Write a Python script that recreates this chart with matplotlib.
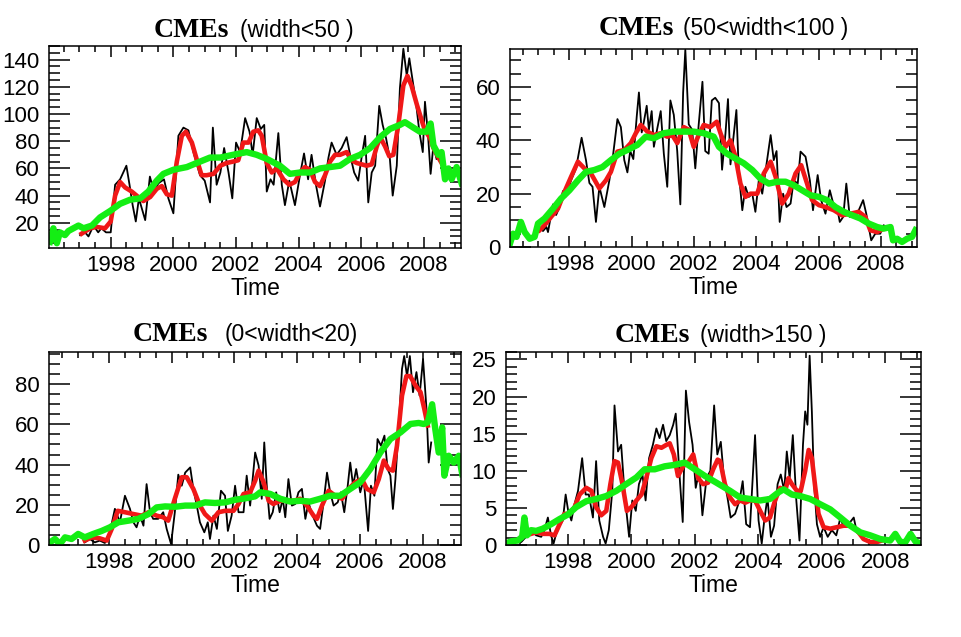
import matplotlib
matplotlib.use('Agg')
import matplotlib.pyplot as plt
from matplotlib.ticker import MultipleLocator

plt.rcParams['font.family'] = 'Liberation Sans'

years = [1998, 2000, 2002, 2004, 2006, 2008]

# ---- CMEs (width<50) ----
p1_black_t = [1997.02, 1997.18, 1997.29, 1997.45, 1997.6, 1997.7, 1997.85, 1998.0, 1998.14, 1998.3,
              1998.5, 1998.6, 1998.7, 1998.8, 1998.9, 1999.1, 1999.25, 1999.38, 1999.52, 1999.7,
              1999.84, 2000.0, 2000.16, 2000.32, 2000.48, 2000.64, 2000.85, 2001.0, 2001.17, 2001.26,
              2001.38, 2001.5, 2001.62, 2001.76, 2001.88, 2002.0, 2002.13, 2002.29, 2002.43, 2002.53,
              2002.66, 2002.79, 2002.9, 2002.98, 2003.1, 2003.2, 2003.35, 2003.46, 2003.56, 2003.7,
              2003.88, 2004.04, 2004.17, 2004.3, 2004.41, 2004.55, 2004.68, 2004.84, 2004.95, 2005.05,
              2005.21, 2005.37, 2005.53, 2005.64, 2005.77, 2005.9, 2006.0, 2006.12, 2006.22, 2006.33,
              2006.44, 2006.57, 2006.68, 2006.79, 2006.91, 2007.0, 2007.13, 2007.23, 2007.34, 2007.45,
              2007.53, 2007.64, 2007.74, 2007.85, 2007.96, 2008.03, 2008.12, 2008.21, 2008.3, 2008.4]
p1_black_v = [11, 13, 10, 18, 13, 16, 13, 13, 48, 52,
              62, 48, 33, 21, 38, 22, 54, 43, 49, 52,
              38, 27, 84, 90, 88, 72, 55, 51, 35, 90,
              48, 57, 75, 57, 38, 79, 72, 97, 87, 70,
              97, 89, 92, 43, 52, 48, 86, 48, 33, 51,
              33, 55, 71, 52, 70, 48, 32, 51, 68, 79,
              70, 75, 83, 70, 57, 51, 67, 84, 35, 57,
              62, 106, 92, 82, 67, 40, 62, 119, 148, 128,
              141, 124, 109, 87, 72, 109, 87, 56, 77, 67]
p1_red_t = [1997.07, 1997.34, 1997.55, 1997.82, 1998.0, 1998.14, 1998.3, 1998.46, 1998.67, 1998.88,
            1999.04, 1999.26, 1999.47, 1999.63, 1999.79, 1999.95, 2000.11, 2000.27, 2000.4, 2000.59,
            2000.74, 2000.9, 2001.06, 2001.28, 2001.5, 2001.7, 2001.9, 2002.07, 2002.23, 2002.4,
            2002.55, 2002.71, 2002.82, 2002.98, 2003.14, 2003.3, 2003.51, 2003.7, 2003.88, 2004.04,
            2004.2, 2004.36, 2004.52, 2004.68, 2004.84, 2005.0, 2005.16, 2005.32, 2005.53, 2005.69,
            2005.85, 2006.01, 2006.17, 2006.33, 2006.49, 2006.6, 2006.76, 2006.89, 2007.02, 2007.18,
            2007.34, 2007.47, 2007.6, 2007.77, 2007.93, 2008.03, 2008.2, 2008.3, 2008.46, 2008.56]
p1_red_v = [12, 16, 17, 16, 21, 40, 50, 46, 43, 39,
            36, 39, 45, 47, 41, 40, 65, 84, 87, 79,
            67, 55, 55, 56, 62, 64, 65, 66, 79, 79,
            87, 88, 84, 64, 57, 60, 52, 48, 50, 57,
            61, 59, 50, 47, 55, 65, 70, 70, 72, 66,
            64, 63, 62, 63, 76, 83, 76, 69, 70, 92,
            121, 128, 121, 107, 95, 88, 82, 75, 68, 64]
p1_green_t = [1996.06, 1996.17, 1996.28, 1996.38, 1996.54, 1996.65, 1996.81, 1996.97, 1997.13, 1997.4,
              1997.66, 1998.0, 1998.3, 1998.62, 1998.94, 1999.2, 1999.47, 1999.68, 2000.0, 2000.43,
              2000.85, 2001.17, 2001.5, 2001.9, 2002.34, 2002.66, 2002.98, 2003.4, 2003.72, 2004.04,
              2004.36, 2004.68, 2005.0, 2005.32, 2005.64, 2005.96, 2006.28, 2006.6, 2006.91, 2007.23,
              2007.39, 2007.66, 2007.87, 2008.09, 2008.21, 2008.3, 2008.46, 2008.56, 2008.67, 2008.78,
              2008.88, 2009.04, 2009.2]
p1_green_v = [6, 16, 5, 13, 11, 14, 16, 18, 16, 18,
              24, 29, 34, 37, 38, 43, 51, 56, 59, 61,
              65, 68, 68, 70, 72, 70, 67, 62, 56, 57,
              57, 60, 61, 62, 67, 70, 75, 83, 89, 92,
              94, 90, 87, 87, 93, 77, 70, 72, 52, 60,
              52, 61, 49]

# ---- CMEs (50<width<100) ----
p2_black_t = [1996.99, 1997.15, 1997.26, 1997.31, 1997.47, 1997.57, 1997.68, 1997.79, 1997.89, 1998.05,
              1998.21, 1998.39, 1998.53, 1998.64, 1998.74, 1998.85, 1998.96, 1999.12, 1999.28, 1999.38,
              1999.54, 1999.65, 1999.76, 1999.86, 1999.95, 2000.05, 2000.16, 2000.23, 2000.32, 2000.39,
              2000.48, 2000.55, 2000.64, 2000.71, 2000.82, 2000.93, 2001.03, 2001.14, 2001.24, 2001.35,
              2001.46, 2001.56, 2001.65, 2001.72, 2001.83, 2001.94, 2002.04, 2002.15, 2002.27, 2002.36,
              2002.47, 2002.57, 2002.68, 2002.8, 2002.9, 2003.01, 2003.09, 2003.17, 2003.28, 2003.36,
              2003.44, 2003.55, 2003.65, 2003.76, 2003.87, 2003.97, 2004.08, 2004.19, 2004.29, 2004.46,
              2004.56, 2004.65, 2004.75, 2004.86, 2004.97, 2005.1, 2005.2, 2005.33, 2005.42, 2005.58,
              2005.72, 2005.82, 2005.97, 2006.08, 2006.22, 2006.36, 2006.47, 2006.6, 2006.68, 2006.79,
              2006.89, 2007.0, 2007.13, 2007.29, 2007.43, 2007.53, 2007.69, 2007.82, 2007.98, 2008.09,
              2008.2]
p2_black_v = [7.5, 6, 7.5, 5.6, 16, 12, 15, 21, 19, 25,
              29.5, 41, 32.6, 24, 22.6, 9.4, 22.6, 15, 25, 32.6,
              48, 45, 32.6, 28, 36, 33, 49, 58, 43, 47,
              53, 44, 51, 37.6, 44.5, 51, 35, 22.6, 55, 49.6,
              36, 16, 58, 74, 46, 44, 29.5, 46, 62, 36,
              35, 55, 56, 54, 29, 42.7, 55.5, 31, 42.7, 51.4,
              27.6, 13.8, 22.6, 18.8, 20, 13.2, 25, 20, 28, 42,
              32.6, 36, 9.4, 20, 15, 16.3, 25, 23.8, 35.8, 33.9,
              25, 13.8, 27, 17.6, 12.5, 21.3, 16.3, 14.4, 9.4, 11.3,
              23.8, 11.3, 12.5, 13.8, 17.6, 12.5, 2.5, 5, 5, 8.2,
              6.9]
p2_red_t = [1997.04, 1997.2, 1997.41, 1997.63, 1997.84, 1998.05, 1998.27, 1998.48, 1998.69, 1998.96,
            1999.17, 1999.33, 1999.54, 1999.76, 1999.97, 2000.13, 2000.29, 2000.5, 2000.71, 2000.93,
            2001.14, 2001.3, 2001.46, 2001.67, 2001.83, 2001.99, 2002.15, 2002.31, 2002.52, 2002.73,
            2002.85, 2003.01, 2003.17, 2003.33, 2003.49, 2003.65, 2003.81, 2004.03, 2004.24, 2004.46,
            2004.62, 2004.83, 2005.04, 2005.26, 2005.44, 2005.63, 2005.79, 2006.01, 2006.22, 2006.49,
            2006.75, 2007.02, 2007.29, 2007.5, 2007.66, 2007.88, 2008.09]
p2_red_v = [6.3, 8.2, 11.3, 14.4, 20.7, 26.3, 32, 29.5, 27.6, 22,
            25, 28.2, 35.8, 36.4, 39, 42.7, 45.8, 43.3, 42, 42.7,
            41.4, 42, 39, 45, 44, 37.6, 42, 45.8, 45, 47,
            42.7, 37.6, 40, 33.9, 23.8, 18.8, 20, 20, 27.6, 32,
            26.3, 16.3, 20, 27.6, 30.7, 23.8, 17.6, 15.7, 15, 13.8,
            11.9, 12.5, 13.2, 11.3, 6.3, 5.6, 6.9]
p2_green_t = [1996.09, 1996.19, 1996.3, 1996.44, 1996.56, 1996.72, 1996.88, 1996.99, 1997.2, 1997.47,
              1997.73, 1998.0, 1998.27, 1998.53, 1998.8, 1999.06, 1999.33, 1999.6, 1999.86, 2000.18,
              2000.45, 2000.71, 2001.03, 2001.35, 2001.67, 2001.99, 2002.31, 2002.63, 2002.8, 2003.06,
              2003.33, 2003.6, 2003.87, 2004.13, 2004.4, 2004.67, 2004.94, 2005.2, 2005.47, 2005.74,
              2006.01, 2006.27, 2006.54, 2006.81, 2007.08, 2007.34, 2007.61, 2007.88, 2008.09, 2008.31,
              2008.39, 2008.52, 2008.68, 2008.84, 2009.0, 2009.11]
p2_green_v = [1.3, 5, 3.8, 9.4, 5.6, 3.1, 3.8, 8.8, 10.7, 14.4,
              18.2, 21.3, 25, 28.2, 28.9, 30, 32.6, 35, 36.4, 38.3,
              41.4, 40.8, 42.7, 43.3, 43.3, 43.3, 42.7, 41.4, 37.6, 35,
              33.2, 31.4, 28.9, 25.7, 23.8, 24.5, 24.5, 23.2, 21.3, 19.4,
              18.8, 17.6, 15, 13.2, 11.9, 10.7, 8.8, 7.5, 6.9, 7.5,
              2.5, 3.1, 1.9, 3.1, 3.8, 6.3]

# ---- CMEs (0<width<20) ----
p3_black_t = [1997.23, 1997.39, 1997.55, 1997.71, 1997.87, 1998.03, 1998.19, 1998.35, 1998.51, 1998.67,
              1998.78, 1998.88, 1998.99, 1999.1, 1999.2, 1999.31, 1999.41, 1999.57, 1999.73, 1999.84,
              1999.98, 2000.1, 2000.21, 2000.32, 2000.43, 2000.59, 2000.69, 2000.8, 2000.9, 2001.04,
              2001.15, 2001.22, 2001.33, 2001.44, 2001.57, 2001.7, 2001.79, 2001.91, 2002.02, 2002.13,
              2002.29, 2002.39, 2002.5, 2002.66, 2002.77, 2002.87, 2002.95, 2003.03, 2003.12, 2003.22,
              2003.33, 2003.44, 2003.54, 2003.62, 2003.72, 2003.83, 2003.94, 2004.04, 2004.15, 2004.26,
              2004.36, 2004.47, 2004.63, 2004.73, 2004.84, 2004.95, 2005.05, 2005.16, 2005.29, 2005.39,
              2005.5, 2005.61, 2005.69, 2005.78, 2005.88, 2006.01, 2006.12, 2006.26, 2006.35, 2006.46,
              2006.56, 2006.67, 2006.78, 2006.88, 2006.97, 2007.05, 2007.13, 2007.23, 2007.34, 2007.41,
              2007.5, 2007.59, 2007.69, 2007.8, 2007.9, 2008.01, 2008.12, 2008.19, 2008.27]
p3_black_v = [1.3, 3, 1.3, 2.2, 1, 6.3, 18, 11.3, 24.5, 18,
              11.3, 8.8, 14.6, 9.6, 30.3, 16.3, 13, 13, 16.3, 8,
              0.5, 16.3, 35, 29.5, 36, 38.6, 27.9, 19.6, 11.3, 6.3,
              11.3, 3, 14.6, 8, 27, 24.5, 7, 14.6, 29.5, 16.3,
              16.3, 34.5, 19.6, 46, 39.5, 23, 51, 29.5, 13, 16.3,
              26.2, 16.3, 23, 13.8, 32.8, 19.6, 20.4, 26.2, 27.9, 13,
              21.2, 15.4, 9.6, 8, 21.2, 36, 26.2, 19.6, 21.2, 26.2,
              16.3, 29.5, 41, 29.5, 37.8, 26.2, 32.8, 7, 29.5, 24.5,
              52.7, 49.4, 54.4, 37.8, 34.5, 17.9, 32.8, 57.7, 87.6, 94,
              84, 94, 76, 86, 74.3, 92.5, 67.7, 41, 51]
p3_red_t = [1997.23, 1997.45, 1997.71, 1997.93, 1998.09, 1998.28, 1998.51, 1998.78, 1999.04, 1999.26,
            1999.52, 1999.73, 1999.89, 2000.1, 2000.32, 2000.48, 2000.69, 2000.9, 2001.06, 2001.28,
            2001.49, 2001.7, 2001.97, 2002.13, 2002.29, 2002.5, 2002.66, 2002.77, 2002.93, 2003.09,
            2003.24, 2003.46, 2003.67, 2003.88, 2004.1, 2004.31, 2004.52, 2004.63, 2004.79, 2005.0,
            2005.21, 2005.43, 2005.64, 2005.85, 2006.06, 2006.22, 2006.44, 2006.6, 2006.76, 2006.91,
            2007.05, 2007.18, 2007.34, 2007.48, 2007.6, 2007.77, 2007.93, 2008.05, 2008.16]
p3_red_v = [2.2, 3.8, 3.3, 2.2, 8, 17, 16.3, 15.4, 14.6, 16.3,
            14.6, 13.8, 12.1, 23, 33.7, 33.7, 27.9, 19.6, 15.4, 12.1,
            16.3, 17, 17, 20.4, 25.4, 26.2, 32, 37, 31.2, 22,
            20.4, 22, 22, 22, 23, 19.6, 14.6, 13, 19.6, 27,
            24.5, 23, 27.9, 31.2, 32.8, 27.9, 26.2, 32.8, 42, 37.8,
            37, 49.4, 74.3, 84, 84, 79.3, 76, 67.7, 59.4]
p3_green_t = [1996.12, 1996.28, 1996.44, 1996.6, 1996.81, 1997.02, 1997.23, 1997.5, 1997.77, 1998.03,
              1998.3, 1998.62, 1998.94, 1999.26, 1999.52, 1999.79, 2000.1, 2000.43, 2000.74, 2001.06,
              2001.38, 2001.7, 2002.02, 2002.34, 2002.66, 2002.82, 2003.14, 2003.46, 2003.78, 2004.1,
              2004.41, 2004.73, 2005.05, 2005.37, 2005.69, 2006.01, 2006.33, 2006.65, 2006.97, 2007.29,
              2007.61, 2007.87, 2008.03, 2008.16, 2008.3, 2008.4, 2008.51, 2008.62, 2008.69, 2008.83,
              2008.99, 2009.15, 2009.26]
p3_green_v = [1.3, 3, 0.5, 3.8, 3, 5.5, 3.8, 5.5, 7, 8.8,
              11.3, 12.1, 13, 15.4, 18.7, 19.2, 19, 19.6, 19.6, 21.2,
              20.9, 21.2, 22.5, 23.2, 24.2, 26.2, 25.4, 23, 21.6, 22,
              21.6, 23, 24.5, 24.5, 27.9, 31.2, 37.8, 46, 52.7, 56,
              60.2, 60.7, 60.2, 61, 70, 57.7, 46, 58.5, 34.5, 44.4,
              41, 44.4, 35.3]

# ---- CMEs (width>150) ----
p4_black_t = [1996.37, 1996.53, 1996.68, 1996.84, 1997.0, 1997.16, 1997.26, 1997.37, 1997.47, 1997.55,
              1997.63, 1997.74, 1997.84, 1997.93, 1998.01, 1998.11, 1998.21, 1998.32, 1998.45, 1998.56,
              1998.66, 1998.79, 1998.89, 1998.99, 1999.11, 1999.19, 1999.29, 1999.4, 1999.47, 1999.58,
              1999.68, 1999.79, 1999.93, 2000.03, 2000.14, 2000.24, 2000.35, 2000.45, 2000.56, 2000.68,
              2000.79, 2000.89, 2001.0, 2001.1, 2001.21, 2001.32, 2001.4, 2001.51, 2001.62, 2001.72,
              2001.82, 2001.93, 2002.03, 2002.14, 2002.24, 2002.37, 2002.49, 2002.61, 2002.71, 2002.82,
              2002.92, 2003.03, 2003.13, 2003.27, 2003.41, 2003.51, 2003.62, 2003.74, 2003.9, 2004.01,
              2004.11, 2004.19, 2004.29, 2004.4, 2004.5, 2004.61, 2004.71, 2004.82, 2004.9, 2004.99,
              2005.09, 2005.2, 2005.3, 2005.41, 2005.48, 2005.55, 2005.62, 2005.69, 2005.76, 2005.85,
              2005.95, 2006.06, 2006.19, 2006.32, 2006.46, 2006.59, 2006.69, 2006.8, 2006.9, 2007.01,
              2007.11, 2007.22]
p4_black_v = [0.6, 0.4, 1.1, 2, 1.3, 1.1, 2, 3.7, 1.3, 0.2,
              1.5, 2.6, 3.3, 6.8, 4.6, 3.3, 5.5, 7.3, 11.7, 6.8,
              6.8, 3.7, 11.3, 3.3, 1.1, 0.2, 2, 7.3, 18.8, 12.6,
              13.5, 6.8, 1.1, 6, 4.6, 8.2, 9.5, 6, 11.7, 13.5,
              15.7, 14.4, 16.2, 14, 14.8, 16.2, 17.7, 10, 3.1, 20.8,
              16.6, 13.5, 7.7, 10, 4, 9, 10, 18.8, 12.2, 13.9,
              9, 6.4, 3.7, 4.2, 6, 8.6, 2.8, 2.4, 14.8, 3.3,
              0.2, 3.3, 6.4, 1.1, 2.6, 8.2, 9.5, 7.3, 12.6, 9,
              14.8, 6, 0.6, 13.5, 18, 16.2, 25.5, 18, 8.2, 2.8,
              1.1, 2.4, 1.1, 2, 1.3, 3.7, 2.4, 2.8, 3.1, 3.7,
              1.7, 1.3]
p4_red_t = [1996.84, 1997.0, 1997.21, 1997.42, 1997.58, 1997.74, 1997.89, 1998.05, 1998.21, 1998.37,
            1998.58, 1998.74, 1998.89, 1999.05, 1999.21, 1999.34, 1999.47, 1999.58, 1999.72, 1999.86,
            2000.0, 2000.16, 2000.32, 2000.47, 2000.63, 2000.79, 2000.95, 2001.11, 2001.21, 2001.34,
            2001.47, 2001.63, 2001.79, 2001.95, 2002.11, 2002.26, 2002.42, 2002.58, 2002.72, 2002.8,
            2002.95, 2003.11, 2003.27, 2003.43, 2003.59, 2003.74, 2003.9, 2004.06, 2004.22, 2004.37,
            2004.53, 2004.69, 2004.85, 2004.95, 2005.06, 2005.22, 2005.34, 2005.48, 2005.59, 2005.69,
            2005.8, 2005.9, 2006.06, 2006.27, 2006.48, 2006.69, 2006.9, 2007.11, 2007.32, 2007.53,
            2007.74, 2007.9]
p4_red_v = [1.5, 1.7, 1.5, 1.5, 1.3, 2.8, 4.2, 4.2, 5.1, 6.8,
            7.7, 7.3, 5.1, 4, 4.6, 8.2, 11.3, 11.1, 8.2, 4.6,
            5.1, 6, 6.8, 9, 11.7, 13.3, 13.1, 13.5, 13.7, 12.2,
            9.3, 10.6, 11.1, 12.2, 9, 8.2, 8.4, 10.2, 11.5, 11.3,
            8.2, 6.4, 5.5, 6, 5.7, 6, 6, 4.6, 3.3, 3.7,
            6, 7.7, 7.3, 9, 8.2, 7.3, 7.3, 10, 12.8, 11.7,
            7.7, 4.2, 2.4, 2.2, 2.4, 2.6, 2.6, 2, 0.8, 0.4,
            0.4, 0.6]
p4_green_t = [1996.05, 1996.21, 1996.42, 1996.56, 1996.63, 1996.71, 1996.84, 1997.0, 1997.21, 1997.47,
              1997.74, 1998.0, 1998.26, 1998.58, 1998.89, 1999.21, 1999.53, 1999.84, 2000.16, 2000.42,
              2000.74, 2001.05, 2001.37, 2001.68, 2002.0, 2002.32, 2002.68, 2003.11, 2003.43, 2003.74,
              2004.06, 2004.37, 2004.64, 2004.8, 2005.06, 2005.32, 2005.64, 2005.95, 2006.27, 2006.59,
              2006.9, 2007.22, 2007.53, 2007.85, 2008.16, 2008.32, 2008.48, 2008.64, 2008.8, 2008.95,
              2009.11]
p4_green_v = [0.2, 0.5, 0.6, 1.1, 3.7, 1.3, 2, 1.9, 2.2, 2.8,
              3.5, 4.1, 5.1, 5.9, 6.2, 6.6, 7.3, 8.2, 9.1, 10.2,
              10.2, 10.6, 10.8, 11.1, 10.2, 9.3, 8.4, 7.3, 6.4, 6.2,
              6, 6.2, 7.1, 7.5, 6.8, 6.6, 6.2, 5.5, 4.8, 3.7,
              2.6, 1.7, 1.3, 0.8, 0.6, 1.5, 0.4, 0.4, 1.5, 0.5,
              0.2]

W, H = 962, 637


def px_rect(left, top, right, bottom):
    return [left / W, 1 - bottom / H, (right - left) / W, (bottom - top) / H]


def draw_panel(fig, rect, black, red, green, xlim, ylim, yticks, yminor):
    ax = fig.add_axes(rect)
    ax.plot(black[0], black[1], color='black', lw=1.3)
    ax.plot(red[0], red[1], color='#f01818', lw=3.3)
    ax.plot(green[0], green[1], color='#14ee14', lw=4.6)
    ax.set_xlim(*xlim)
    ax.set_ylim(*ylim)
    ax.set_xticks(years)
    ax.set_xticklabels([str(y) for y in years])
    ax.xaxis.set_minor_locator(MultipleLocator(0.5))
    ax.set_yticks(yticks)
    ax.yaxis.set_minor_locator(MultipleLocator(yminor))
    ax.tick_params(which='both', direction='in', top=True, right=True, width=1.1,
                   labelsize=16)
    ax.tick_params(axis='x', which='major', length=8, pad=5)
    ax.tick_params(axis='x', which='minor', length=4)
    ax.tick_params(axis='y', which='major', length=15, pad=7)
    ax.tick_params(axis='y', which='minor', length=8)
    for s in ax.spines.values():
        s.set_linewidth(1.1)
    ax.set_xlabel('Time', fontsize=16.5, labelpad=1)
    return ax


def add_title(fig, split_x, gap, baseline, rest):
    y = 1 - baseline / H
    fig.text(split_x / W, y, 'CMEs', ha='right', va='baseline',
             family='Liberation Serif', weight='bold', fontsize=20)
    fig.text((split_x + gap) / W, y, rest, ha='left', va='baseline', fontsize=16.5)


def main():
    fig = plt.figure(figsize=(W / 100, H / 100), dpi=100)

    draw_panel(fig, px_rect(49, 46, 461, 248),
               (p1_black_t, p1_black_v), (p1_red_t, p1_red_v), (p1_green_t, p1_green_v),
               (1996.03, 2009.18), (1.5, 150), [20, 40, 60, 80, 100, 120, 140], 5)
    add_title(fig, 229, 11, 37, '(width<50 )')

    draw_panel(fig, px_rect(510, 49, 917, 247),
               (p2_black_t, p2_black_v), (p2_red_t, p2_red_v), (p2_green_t, p2_green_v),
               (1996.09, 2009.16), (0, 74.3), [0, 20, 40, 60], 5)
    add_title(fig, 674, 9, 35, '(50<width<100 )')

    draw_panel(fig, px_rect(49, 352, 461, 545),
               (p3_black_t, p3_black_v), (p3_red_t, p3_red_v), (p3_green_t, p3_green_v),
               (1996.09, 2009.22), (0, 96), [0, 20, 40, 60, 80], 5)
    add_title(fig, 208, 17, 341, '(0<width<20)')

    draw_panel(fig, px_rect(506, 352, 921, 545),
               (p4_black_t, p4_black_v), (p4_red_t, p4_red_v), (p4_green_t, p4_green_v),
               (1996.05, 2009.13), (0, 26), [0, 5, 10, 15, 20, 25], 1)
    add_title(fig, 690, 10, 342, '(width>150 )')

    fig.savefig('out.png', dpi=100)


if __name__ == '__main__':
    main()
